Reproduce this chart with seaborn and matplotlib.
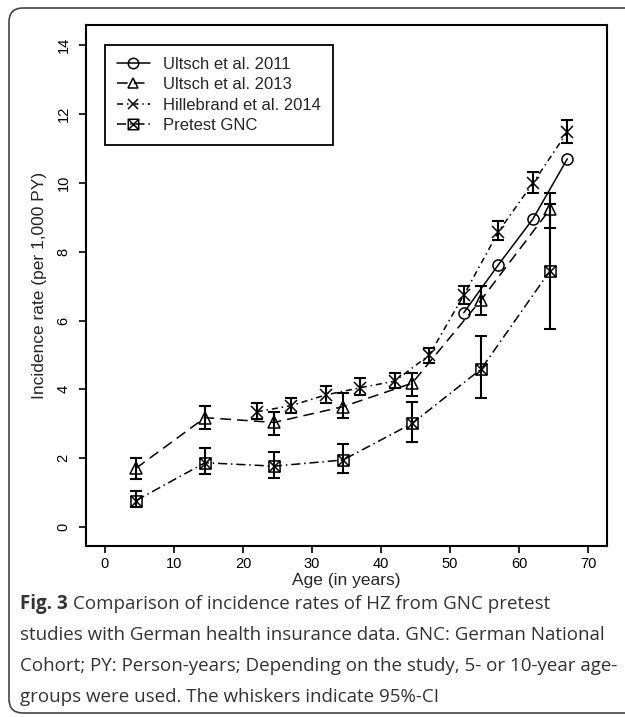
import numpy as np
import pandas as pd
import matplotlib
matplotlib.use("Agg")
import matplotlib.pyplot as plt
from matplotlib.lines import Line2D
from matplotlib.path import Path
from matplotlib.patches import FancyBboxPatch
import seaborn as sns

sns.set_theme(style="ticks")
plt.rcParams["font.family"] = ["Liberation Sans", "DejaVu Sans"]

# values (age midpoints, rate per 1,000 PY, 95%-CI)
ultsch11_age = [52, 57, 62, 67]
ultsch11_rate = [6.23, 7.62, 8.95, 10.7]

ultsch13_age = [4.5, 14.5, 24.5, 34.5, 44.5, 54.5, 64.5]
ultsch13_rate = [1.71, 3.18, 3.04, 3.50, 4.18, 6.60, 9.24]
ultsch13_lo = [1.40, 2.85, 2.67, 3.16, 3.81, 6.16, 8.70]
ultsch13_hi = [2.00, 3.53, 3.35, 3.89, 4.49, 7.00, 9.72]

hill_age = [22, 27, 32, 37, 42, 47, 52, 57, 62, 67]
hill_rate = [3.35, 3.53, 3.84, 4.05, 4.24, 5.00, 6.74, 8.58, 9.99, 11.48]
hill_lo = [3.13, 3.32, 3.60, 3.84, 4.05, 4.78, 6.48, 8.34, 9.70, 11.16]
hill_hi = [3.60, 3.74, 4.10, 4.32, 4.47, 5.19, 7.00, 8.90, 10.33, 11.83]

gnc_age = [4.5, 14.5, 24.5, 34.5, 44.5, 54.5, 64.5]
gnc_rate = [0.77, 1.87, 1.77, 1.95, 3.01, 4.59, 7.45]
gnc_lo = [0.57, 1.53, 1.43, 1.58, 2.48, 3.74, 5.75]
gnc_hi = [1.05, 2.29, 2.19, 2.41, 3.64, 5.56, 9.40]

labels = ["Ultsch et al. 2011", "Ultsch et al. 2013",
          "Hillebrand et al. 2014", "Pretest GNC"]

# square with an X inside (like R pch=7)
box_x = Path([(-1, -1), (1, -1), (1, 1), (-1, 1), (-1, -1),
              (-1, -1), (1, 1), (-1, 1), (1, -1)],
             [Path.MOVETO, Path.LINETO, Path.LINETO, Path.LINETO, Path.CLOSEPOLY,
              Path.MOVETO, Path.LINETO, Path.MOVETO, Path.LINETO])

series = [
    (ultsch11_age, ultsch11_rate, None, None, "o", "-"),
    (ultsch13_age, ultsch13_rate, ultsch13_lo, ultsch13_hi, "^", (0, (7, 4))),
    (hill_age, hill_rate, hill_lo, hill_hi, "x", (0, (4, 2.5, 1, 2.5))),
    (gnc_age, gnc_rate, gnc_lo, gnc_hi, box_x, (0, (6, 2.5, 1, 2.5))),
]

fig = plt.figure(figsize=(6.25, 7.17), dpi=100)
ax = fig.add_axes([86 / 625, 1 - 546 / 717, 521 / 625, 521 / 717])

handles = []
for (age, rate, lo, hi, mk, ls), lab in zip(series, labels):
    df = pd.DataFrame({"age": age, "rate": rate})
    sns.lineplot(data=df, x="age", y="rate", ax=ax, color="black",
                 linewidth=1.1, linestyle=ls, marker=mk, markersize=8,
                 markerfacecolor="none", markeredgecolor="black",
                 markeredgewidth=1.1, errorbar=None)
    if lo is not None:
        r = np.array(rate)
        yerr = [r - np.array(lo), np.array(hi) - r]
        ax.errorbar(age, rate, yerr=yerr, fmt="none", ecolor="black",
                    elinewidth=1.5, capsize=4.5, capthick=1.5)
    handles.append(Line2D([], [], color="black", linewidth=1.1, linestyle=ls,
                          marker=mk, markersize=7.5, markerfacecolor="none",
                          markeredgewidth=1.1))

ax.set_xlim(-2.75, 72.75)
ax.set_ylim(-0.55, 14.59)
ax.set_xticks(range(0, 71, 10))
ax.set_yticks(range(0, 15, 2))
ax.tick_params(direction="out", length=5, width=1.2, colors="black",
               labelsize=10.5, pad=3)
ax.tick_params(axis="y", pad=6)
for t in ax.get_yticklabels():
    t.set_rotation(90)
    t.set_va("center")
for s in ax.spines.values():
    s.set_visible(True)
    s.set_linewidth(1.5)
    s.set_color("black")
ax.set_xlabel("Age (in years)", fontsize=12.5, labelpad=1)
ax.set_ylabel("Incidence rate (per 1,000 PY)", fontsize=12.5, labelpad=7)

leg = ax.legend(handles, labels, loc="upper left",
                bbox_to_anchor=(0.0365, 0.9616), borderaxespad=0,
                fontsize=12, handlelength=2.0, handletextpad=0.8,
                borderpad=0.7, labelspacing=0.33, fancybox=False,
                framealpha=1)
leg.get_frame().set_edgecolor("black")
leg.get_frame().set_linewidth(1.3)

# rounded frame around the whole figure
fig.add_artist(FancyBboxPatch((9, 4), 700, 705, transform=None,
                              boxstyle="round,pad=0,rounding_size=14",
                              facecolor="none", edgecolor="#444444",
                              linewidth=1.2))

# caption
cap_font = ["Open Sans", "DejaVu Sans"]
cap_size = 13.5
cap_color = "#333333"
fig.canvas.draw()
renderer = fig.canvas.get_renderer()
bold = fig.text(20 / 625, 1 - 604 / 717, "Fig. 3", fontsize=cap_size,
                fontweight="bold", family=cap_font, color=cap_color,
                va="center", ha="left")
bb = bold.get_window_extent(renderer)
fig.text(bb.x1 / 625 + 5 / 625, 1 - 604 / 717,
         "Comparison of incidence rates of HZ from GNC pretest",
         fontsize=cap_size, family=cap_font, color=cap_color,
         va="center", ha="left")
caption_lines = [
    "studies with German health insurance data. GNC: German National",
    "Cohort; PY: Person-years; Depending on the study, 5- or 10-year age-",
    "groups were used. The whiskers indicate 95%-CI",
]
for i, line in enumerate(caption_lines):
    fig.text(20 / 625, 1 - (635 + 31 * i) / 717, line, fontsize=cap_size,
             family=cap_font, color=cap_color, va="center", ha="left")

fig.savefig("out.png", dpi=100)
